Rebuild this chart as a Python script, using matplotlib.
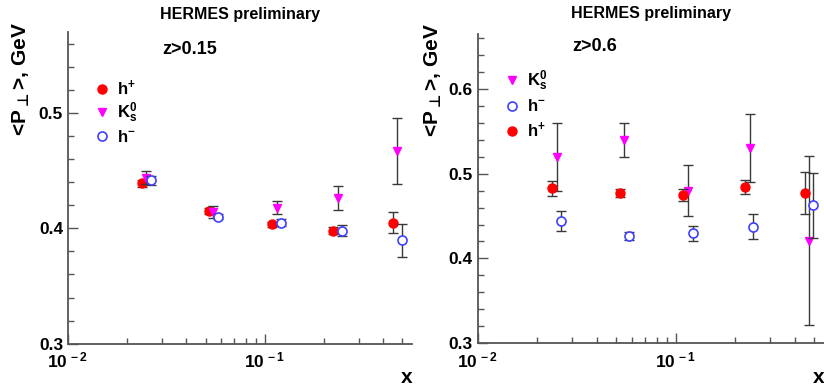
import matplotlib
matplotlib.use("Agg")
import matplotlib.pyplot as plt
from matplotlib.lines import Line2D
from matplotlib.ticker import LogLocator, FixedLocator, NullFormatter

plt.rcParams["font.family"] = ["Liberation Sans", "DejaVu Sans"]
plt.rcParams["font.weight"] = "bold"
plt.rcParams["mathtext.fontset"] = "custom"
plt.rcParams["mathtext.rm"] = "Liberation Sans:bold"
plt.rcParams["mathtext.bf"] = "Liberation Sans:bold"
plt.rcParams["mathtext.it"] = "Liberation Sans:bold"

# ---- z > 0.15 ----
x_hp_a = [0.0237, 0.052, 0.109, 0.222, 0.448]
y_hp_a = [0.439, 0.415, 0.4035, 0.398, 0.405]
e_hp_a = [0.003, 0.003, 0.002, 0.003, 0.009]

x_k0_a = [0.0248, 0.0547, 0.115, 0.2355, 0.471]
y_k0_a = [0.444, 0.414, 0.418, 0.426, 0.467]
e_k0_a = [0.006, 0.005, 0.006, 0.0105, 0.029]

x_hm_a = [0.0263, 0.058, 0.1205, 0.247, 0.498]
y_hm_a = [0.4415, 0.410, 0.405, 0.398, 0.3895]
e_hm_a = [0.004, 0.002, 0.003, 0.005, 0.014]

# ---- z > 0.6 ----
x_hp_b = [0.0238, 0.0524, 0.109, 0.2235, 0.45]
y_hp_b = [0.4825, 0.477, 0.4745, 0.4845, 0.477]
e_hp_b = [0.0085, 0.005, 0.007, 0.008, 0.025]

x_k0_b = [0.025, 0.055, 0.115, 0.237, 0.468]
y_k0_b = [0.520, 0.540, 0.480, 0.530, 0.421]
e_k0_b = [0.040, 0.020, 0.030, 0.040, 0.100]

x_hm_b = [0.0264, 0.0578, 0.1216, 0.2465, 0.493]
y_hm_b = [0.4445, 0.4265, 0.4295, 0.4375, 0.4625]
e_hm_b = [0.012, 0.005, 0.009, 0.015, 0.038]

RED = "#ff0000"
MAG = "#ff00ff"
BLUE = "#4040ff"
ERR = "#3a3a3a"

STYLES = {
    "hp": dict(marker="o", color=RED, ms=6.5, mec=RED, mfc=RED),
    "k0": dict(marker="v", color=MAG, ms=5.5, mec=MAG, mfc=MAG),
    "hm": dict(marker="o", color=BLUE, ms=6.5, mfc="white", mec=BLUE, mew=1.2),
}
LABELS = {"hp": r"h$^{+}$", "k0": r"K$^{0}_{s}$", "hm": r"h$^{-}$"}


def draw(ax, xs, ys, es, kind):
    ax.errorbar(xs, ys, yerr=es, fmt="none", ecolor=ERR, elinewidth=1.0,
                capsize=3.5, capthick=1.0)
    ax.plot(xs, ys, ls="none", **STYLES[kind])


def legend(ax, order, top, spacing):
    handles = [Line2D([], [], ls="none", **STYLES[k]) for k in order]
    ax.legend(handles, [LABELS[k] for k in order], loc="upper left",
              bbox_to_anchor=(0.05, top), frameon=False, fontsize=12,
              handletextpad=0.3, labelspacing=spacing, handlelength=1.2,
              borderaxespad=0.0)


def style(ax, ymin, ymax, yticks, yminor, ztext, zx, zy, ty, ylx):
    ax.set_xscale("log")
    ax.set_xlim(0.01, 0.56)
    ax.set_ylim(ymin, ymax)
    ax.yaxis.set_major_locator(FixedLocator(yticks))
    ax.yaxis.set_minor_locator(FixedLocator(yminor))
    ax.set_yticklabels([f"{t:.1f}" for t in yticks])
    ax.xaxis.set_major_locator(FixedLocator([0.01, 0.1]))
    ax.xaxis.set_minor_locator(LogLocator(base=10, subs=range(2, 10)))
    ax.xaxis.set_minor_formatter(NullFormatter())
    ax.set_xticklabels([r"10$^{\,-2}$", r"10$^{\,-1}$"])
    for s in ["top", "right"]:
        ax.spines[s].set_visible(False)
    for s in ["left", "bottom"]:
        ax.spines[s].set_color("#555555")
        ax.spines[s].set_linewidth(1.3)
    ax.tick_params(which="both", direction="in", color="#555555", width=1.0,
                   labelsize=12.5)
    ax.tick_params(which="major", length=7)
    ax.tick_params(which="minor", length=4)
    ax.tick_params(axis="x", which="major", pad=5)
    ax.set_ylabel(r"<P$_{\bot}$>, GeV", fontsize=15, fontweight="bold",
                  math_fontfamily="dejavusans")
    ax.yaxis.set_label_coords(ylx, 0.85)
    ax.text(1.0, -0.11, "x", transform=ax.transAxes, ha="right", va="center",
            fontsize=15, fontweight="bold")
    ax.text(0.5, ty, "HERMES preliminary", transform=ax.transAxes,
            ha="center", va="center", fontsize=11.5, fontweight="bold")
    ax.text(zx, zy, ztext, transform=ax.transAxes, ha="left",
            va="center", fontsize=13, fontweight="bold")


fig = plt.figure(figsize=(8.24, 3.87), dpi=100)
ax1 = fig.add_axes([0.0825, 0.112, 0.4175, 0.805])
ax2 = fig.add_axes([0.5797, 0.113, 0.4203, 0.800])

draw(ax1, x_hp_a, y_hp_a, e_hp_a, "hp")
draw(ax1, x_k0_a, y_k0_a, e_k0_a, "k0")
draw(ax1, x_hm_a, y_hm_a, e_hm_a, "hm")
style(ax1, 0.3, 0.57, [0.3, 0.4, 0.5],
      [0.32, 0.34, 0.36, 0.38, 0.42, 0.44, 0.46, 0.48, 0.52, 0.54, 0.56],
      "z>0.15", 0.275, 0.945, 1.058, -0.105)
legend(ax1, ["hp", "k0", "hm"], 0.873, 0.2)

draw(ax2, x_k0_b, y_k0_b, e_k0_b, "k0")
draw(ax2, x_hm_b, y_hm_b, e_hm_b, "hm")
draw(ax2, x_hp_b, y_hp_b, e_hp_b, "hp")
style(ax2, 0.3, 0.665, [0.3, 0.4, 0.5, 0.6],
      [0.32, 0.34, 0.36, 0.38, 0.42, 0.44, 0.46, 0.48, 0.52, 0.54, 0.56, 0.58,
       0.62, 0.64, 0.66],
      "z>0.6", 0.273, 0.958, 1.065, -0.098)
legend(ax2, ["k0", "hm", "hp"], 0.91, 0.35)

fig.savefig("out.png", dpi=100)
